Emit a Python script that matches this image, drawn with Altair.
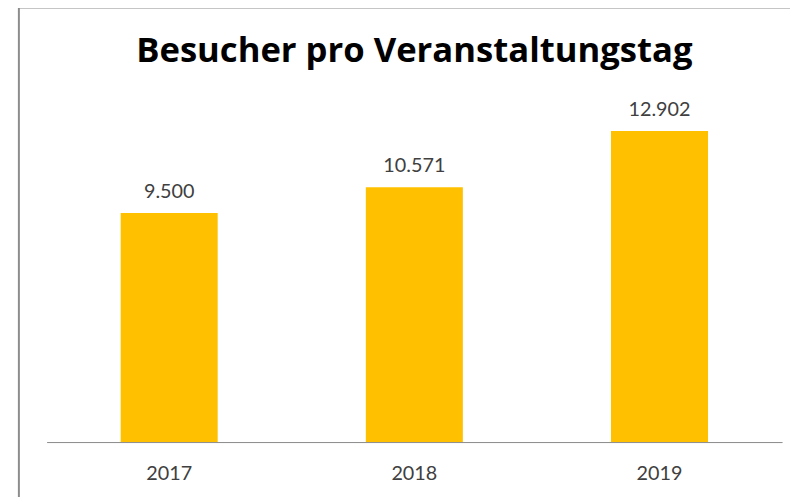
import altair as alt
import pandas as pd

title_text = "Besucher pro Veranstaltungstag"
years = ["2017", "2018", "2019"]
visitors = [9500, 10571, 12902]
labels = [f"{v:,}".replace(",", ".") for v in visitors]

df = pd.DataFrame({"Jahr": years, "Besucher": visitors, "Label": labels})
one_df = pd.DataFrame({"Titel": [title_text]})

FONT = "Lato"
TXT = "#404040"

x_enc = alt.X(
    "Jahr:N",
    sort=years,
    title=None,
    scale=alt.Scale(paddingInner=0, paddingOuter=0),
    axis=alt.Axis(
        labelAngle=0,
        ticks=False,
        grid=False,
        domainColor="#8a8a8a",
        domainWidth=1,
        labelFont=FONT,
        labelFontSize=20,
        labelColor=TXT,
        labelBaseline="alphabetic",
        labelPadding=38,
    ),
)
y_enc = alt.Y(
    "Besucher:Q",
    scale=alt.Scale(domain=[0, 14000], nice=False),
    axis=None,
)

base = alt.Chart(df)
bars = base.mark_bar(size=98, color="#FFC000").encode(x=x_enc, y=y_enc)
text = base.mark_text(
    dy=-15, baseline="alphabetic", font=FONT, fontSize=20, color=TXT
).encode(x=x_enc, y=y_enc, text="Label:N")

one = alt.Chart(one_df)
top_line = one.mark_rule(color="#8c8c8c", strokeWidth=2).encode(
    x=alt.value(-28), x2=alt.value(770), y=alt.value(-98)
)
left_line = one.mark_rule(color="#8c8c8c", strokeWidth=2).encode(
    x=alt.value(-28), y=alt.value(-98), y2=alt.value(420)
)
title = one.mark_text(
    font="Open Sans", fontWeight="bold", fontSize=35, color="black",
    align="center", baseline="alphabetic",
).encode(x=alt.value(371.5), y=alt.value(-43), text="Titel:N")

chart = (
    alt.layer(top_line, left_line, bars, text, title)
    .properties(
        width=743,
        height=341,
        autosize=alt.AutoSizeParams(type="none"),
        padding={"left": 39, "top": 95, "right": 8, "bottom": 53},
        background="white",
    )
    .configure_view(stroke=None)
)

chart.save("out.html", embed_options={"renderer": "svg", "actions": False})
